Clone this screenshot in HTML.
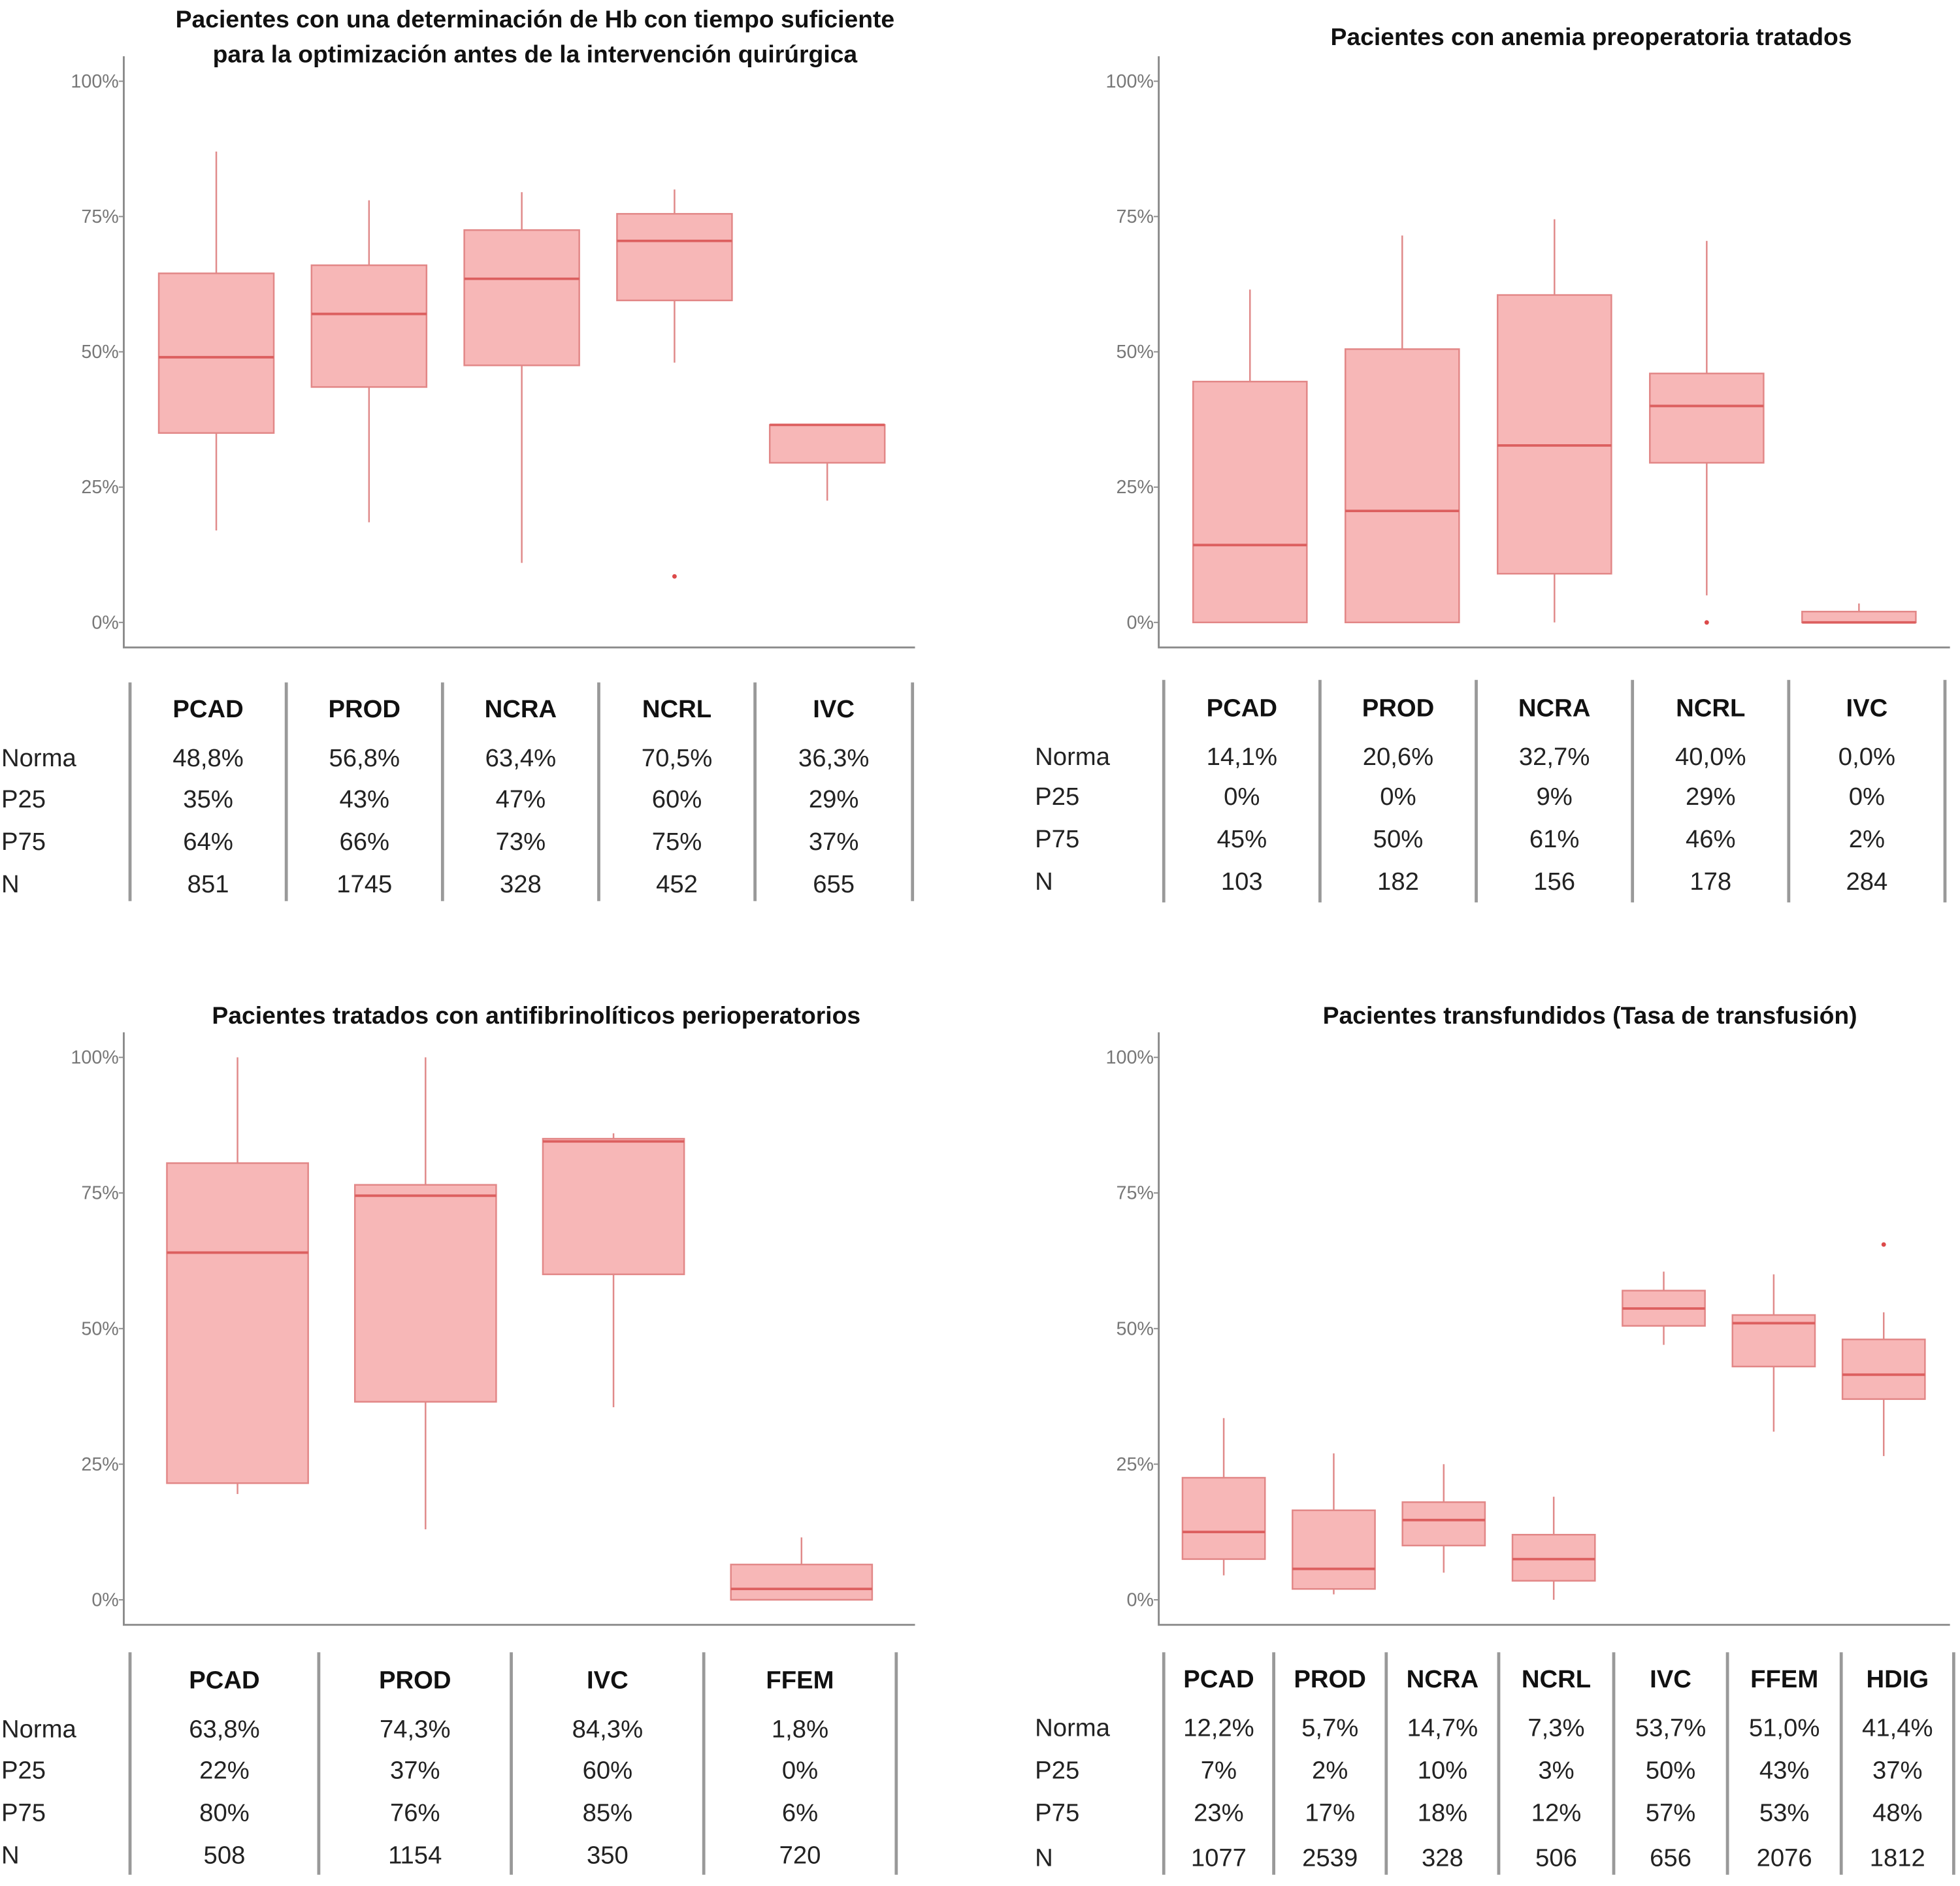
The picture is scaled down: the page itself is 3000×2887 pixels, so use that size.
<!DOCTYPE html>
<html><head><meta charset="utf-8"><style>
html,body{margin:0;padding:0;background:#fff}
svg{display:block}
text{font-family:"Liberation Sans",sans-serif}
</style></head><body>
<svg id="root" width="3000" height="2887" viewBox="0 0 1568 1509" xmlns="http://www.w3.org/2000/svg"></svg>
<script>
// ---- data ----
const catsA=["PCAD","PROD","NCRA","NCRL","IVC"];
const loA=[17,18.5,11,48,22.5], q1A=[35,43.5,47.5,59.5,29.5], medA=[49,57,63.5,70.5,36.5], q3A=[64.5,66,72.5,75.5,36.5], hiA=[87,78,79.5,80,36.5];
const outA=[[3,8.5]];
const normaA=["48,8%","56,8%","63,4%","70,5%","36,3%"], p25A=["35%","43%","47%","60%","29%"], p75A=["64%","66%","73%","75%","37%"], nA=["851","1745","328","452","655"];

const catsB=["PCAD","PROD","NCRA","NCRL","IVC"];
const loB=[0,0,0,5,0], q1B=[0,0,9,29.5,0], medB=[14.3,20.6,32.7,40,0], q3B=[44.5,50.5,60.5,46,2], hiB=[61.5,71.5,74.5,70.5,3.5];
const outB=[[3,0]];
const normaB=["14,1%","20,6%","32,7%","40,0%","0,0%"], p25B=["0%","0%","9%","29%","0%"], p75B=["45%","50%","61%","46%","2%"], nB=["103","182","156","178","284"];

const catsC=["PCAD","PROD","IVC","FFEM"];
const loC=[19.5,13,35.5,0], q1C=[21.5,36.5,60,0], medC=[64,74.5,84.5,2], q3C=[80.5,76.5,85,6.5], hiC=[100,100,86,11.5];
const outC=[];
const normaC=["63,8%","74,3%","84,3%","1,8%"], p25C=["22%","37%","60%","0%"], p75C=["80%","76%","85%","6%"], nC=["508","1154","350","720"];

const catsD=["PCAD","PROD","NCRA","NCRL","IVC","FFEM","HDIG"];
const loD=[4.5,1,5,0,47,31,26.5], q1D=[7.5,2,10,3.5,50.5,43,37], medD=[12.5,5.7,14.7,7.5,53.7,51,41.5], q3D=[22.5,16.5,18,12,57,52.5,48], hiD=[33.5,27,25,19,60.5,60,53];
const outD=[[6,65.5]];
const normaD=["12,2%","5,7%","14,7%","7,3%","53,7%","51,0%","41,4%"], p25D=["7%","2%","10%","3%","50%","43%","37%"], p75D=["23%","17%","18%","12%","57%","53%","48%"], nD=["1077","2539","328","506","656","2076","1812"];

const ticks=[0,25,50,75,100];
const tickLabels=["0%","25%","50%","75%","100%"];

const NS="http://www.w3.org/2000/svg";
const root=document.getElementById('root');
function mk(tag,attrs,parent){const e=document.createElementNS(NS,tag);for(const k in attrs)e.setAttribute(k,attrs[k]);(parent||root).appendChild(e);return e;}

function panel(cfg){
  const g=mk('g',{});
  
  
  const y=v=>cfg.y0-(cfg.y0-cfg.y100)*v/100;
  const xc=i=>cfg.xFirst+i*cfg.step;
  // title
  cfg.title.forEach((t,k)=>{
    const tt=mk('text',{x:cfg.titleX,y:cfg.titleY+k*28,'text-anchor':'middle','font-size':19.5,'font-weight':'bold',fill:'#111'},g);
    tt.textContent=t;
    
    
  });
  // axes
  const ax=mk('path',{d:`M${cfg.ax},${cfg.axTop} V${cfg.axBot} H${cfg.axRight}`,stroke:'#8a8a8a','stroke-width':1.5,fill:'none'},g);
  
  
  ticks.forEach((t,i)=>{
    mk('line',{x1:cfg.ax-4,x2:cfg.ax,y1:y(t),y2:y(t),stroke:'#8a8a8a','stroke-width':1},g);
    const tl=mk('text',{x:cfg.ax-4,y:y(t)+5,'text-anchor':'end','font-size':15,fill:'#777'},g);
    tl.textContent=tickLabels[i];
    
    
  });
  // boxes
  cfg.cats.forEach((c,i)=>{
    const x=xc(i), w=cfg.bw;
    const bg=mk('g',{},g);
    
    
    mk('line',{x1:x,x2:x,y1:y(cfg.hi[i]),y2:y(cfg.q3[i]),stroke:'#e08a8a','stroke-width':1.3},bg);
    mk('line',{x1:x,x2:x,y1:y(cfg.q1[i]),y2:y(cfg.lo[i]),stroke:'#e08a8a','stroke-width':1.3},bg);
    mk('rect',{x:x-w/2,y:y(cfg.q3[i]),width:w,height:Math.max(y(cfg.q1[i])-y(cfg.q3[i]),0.5),fill:'#f7b7b7',stroke:'#e28787','stroke-width':1.3},bg);
    mk('line',{x1:x-w/2,x2:x+w/2,y1:y(cfg.med[i]),y2:y(cfg.med[i]),stroke:'#dc5f5f','stroke-width':2},bg);
  });
  cfg.out.forEach(o=>{
    const p=mk('circle',{cx:xc(o[0]),cy:y(o[1]),r:1.8,fill:'#dc4a4a'},g);
    
    
  });
  // table
  const tg=mk('g',{},g);
  
  
  cfg.lines.forEach(lx=>mk('line',{x1:lx,x2:lx,y1:cfg.tTop,y2:cfg.tBot,stroke:'#999','stroke-width':2.5},tg));
  const cx=i=>(cfg.lines[i]+cfg.lines[i+1])/2;
  cfg.cats.forEach((c,i)=>{
    const h=mk('text',{x:cx(i),y:cfg.hY,'text-anchor':'middle','font-size':20,'font-weight':'bold',fill:'#111'},tg);
    h.textContent=c;
    
    
  });
  const rows=[["Norma",cfg.norma],["P25",cfg.p25],["P75",cfg.p75],["N",cfg.n]];
  rows.forEach((r,k)=>{
    const yy=cfg.rY[k];
    const l=mk('text',{x:cfg.labX,y:yy,'font-size':20,fill:'#222'},tg);
    l.textContent=r[0];
    
    
    r[1].forEach((v,i)=>{
      const t=mk('text',{x:cx(i),y:yy,'text-anchor':'middle','font-size':20,fill:'#222'},tg);
      t.textContent=v;
      
      
    });
  });
}

panel({name:'panel-hb-determination',title:["Pacientes con una determinación de Hb con tiempo suficiente","para la optimización antes de la intervención quirúrgica"],titleX:428,titleY:22,
  ax:99,axTop:45,axBot:518,axRight:732,y0:498,y100:65,xFirst:173,step:122.2,bw:92,
  cats:catsA,lo:loA,q1:q1A,med:medA,q3:q3A,hi:hiA,out:outA,
  lines:[104,229,354,479,604,730],tTop:546,tBot:721,hY:574,rY:[613,646,680,714],labX:1,
  norma:normaA,p25:p25A,p75:p75A,n:nA});
panel({name:'panel-anemia-treated',title:["Pacientes con anemia preoperatoria tratados"],titleX:1273,titleY:36,
  ax:927,axTop:45,axBot:518,axRight:1560,y0:498,y100:65,xFirst:1000,step:121.8,bw:91,
  cats:catsB,lo:loB,q1:q1B,med:medB,q3:q3B,hi:hiB,out:outB,
  lines:[931,1056,1181,1306,1431,1556],tTop:544,tBot:722,hY:573,rY:[612,644,678,712],labX:828,
  norma:normaB,p25:p25B,p75:p75B,n:nB});
panel({name:'panel-antifibrinolytics',title:["Pacientes tratados con antifibrinolíticos perioperatorios"],titleX:429,titleY:819,
  ax:99,axTop:826,axBot:1300,axRight:732,y0:1280,y100:846,xFirst:190,step:150.4,bw:113,
  cats:catsC,lo:loC,q1:q1C,med:medC,q3:q3C,hi:hiC,out:outC,
  lines:[104,255,409,563,717],tTop:1322,tBot:1500,hY:1351,rY:[1390,1423,1457,1491],labX:1,
  norma:normaC,p25:p25C,p75:p75C,n:nC});
panel({name:'panel-transfusion-rate',title:["Pacientes transfundidos (Tasa de transfusión)"],titleX:1272,titleY:819,
  ax:927,axTop:826,axBot:1300,axRight:1560,y0:1280,y100:846,xFirst:979,step:88,bw:66,
  cats:catsD,lo:loD,q1:q1D,med:medD,q3:q3D,hi:hiD,out:outD,
  lines:[931,1019,1109,1199,1291,1382,1473,1563],tTop:1322,tBot:1500,hY:1350,rY:[1389,1423,1457,1493],labX:828,
  norma:normaD,p25:p25D,p75:p75D,n:nD});
</script>
</body></html>
